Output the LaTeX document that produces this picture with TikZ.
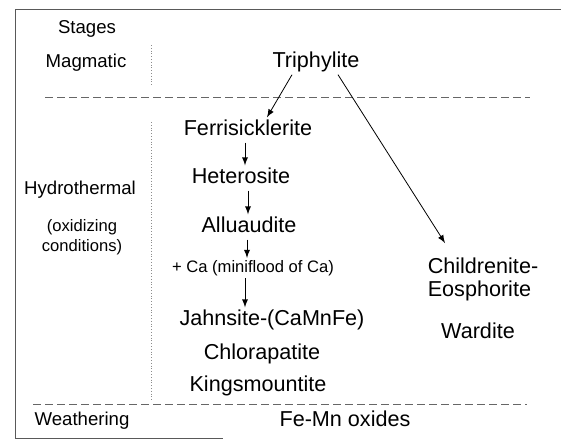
\documentclass[tikz,border=0pt]{standalone}
\usepackage{fontspec}
\setmainfont{Liberation Sans}
\usetikzlibrary{arrows}

\begin{document}
\begin{tikzpicture}[x=.5pt,y=-.5pt,
  stage/.style={font=\fontsize{9.3}{11}\selectfont,align=center},
  mineral/.style={font=\fontsize{10.8}{13}\selectfont,inner sep=1pt,text height=8pt,text depth=2.3pt},
  pair/.style={font=\fontsize{10.8}{11.5}\selectfont,inner sep=1pt,align=left},
  note/.style={font=\fontsize{8.3}{10}\selectfont,inner sep=1pt},
  arr/.style={->,>=latex,thin},
  rim/.style={thin,black!65},
  sep/.style={thin,black!60,dash pattern=on 4pt off 2pt},
  col/.style={thin,black!45,densely dotted}]

  \useasboundingbox (0,0) rectangle (561,441);

  \draw[rim] (561,9) -- (15,9) -- (15,438) -- (223,438);
  \draw[sep] (45,97) -- (530,97);
  \draw[sep] (33,404) -- (527,404);
  \draw[col] (151,45) -- (151,85);
  \draw[col] (151,122) -- (151,400);

  \node[stage] (stg) at (87,29) {Stages};
  \node[stage] (mag) at (86,63) {Magmatic};
  \node[stage] (hyd) at (80,190) {Hydrothermal};
  \node[note,align=center] (oxi) at (82,237) {(oxidizing\\conditions)};
  \node[stage] (wea) at (82,421) {Weathering};

  \node[mineral] (tri) at (316,62) {Triphylite};
  \node[mineral] (fer) at (248,130) {Ferrisicklerite};
  \node[mineral] (het) at (241,178) {Heterosite};
  \node[mineral] (all) at (249,227) {Alluaudite};
  \node[note] (ca) at (253,268) {+ Ca (miniflood of Ca)};
  \node[mineral] (jah) at (272,320) {Jahnsite-(CaMnFe)};
  \node[mineral] (chl) at (262,354) {Chlorapatite};
  \node[mineral] (kin) at (258,386) {Kingsmountite};
  \node[mineral] (fem) at (345,421) {Fe-Mn oxides};
  \node[pair] (chi) at (483,279) {Childrenite-\\Eosphorite};
  \node[mineral] (war) at (478,333) {Wardite};

  \draw[arr] ([xshift=-12pt]tri.south) -- ([xshift=9.5pt]fer.north);
  \draw[arr] ([xshift=11pt]tri.south) -- ([xshift=-19pt,yshift=6pt]chi.north);
  \draw[arr] (245,0 |- fer.south) -- (245,0 |- het.north);
  \draw[arr] (248,0 |- het.south) -- (248,0 |- all.north);
  \draw[arr] (247,0 |- all.south) -- (247,0 |- ca.north);
  \draw[arr] (245,0 |- ca.south) -- (245,0 |- jah.north);
\end{tikzpicture}
\end{document}
